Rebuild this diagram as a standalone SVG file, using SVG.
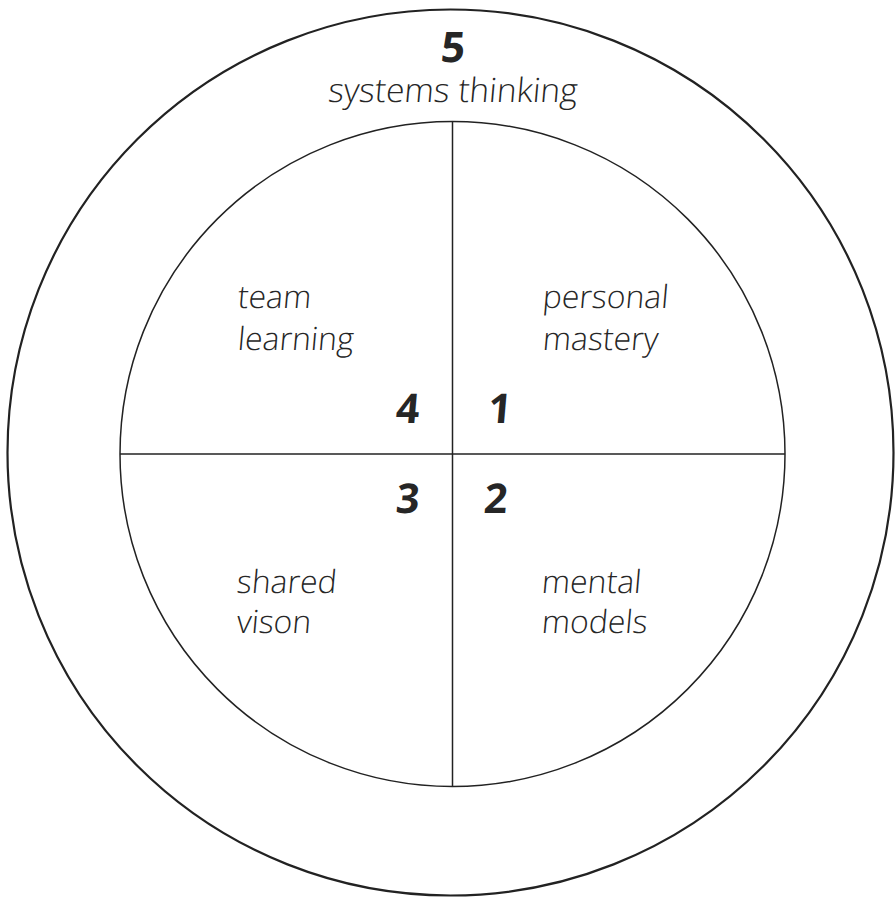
<svg xmlns="http://www.w3.org/2000/svg" width="895" height="898" viewBox="0 0 895 898">
<style>
.lbl{font-family:"Open Sans","Liberation Sans",sans-serif;font-weight:300;font-size:32px;fill:#262626}
.num{font-family:"Open Sans","Liberation Sans",sans-serif;font-weight:700;font-size:41px;fill:#262626}
.ring{fill:none;stroke:#222}
</style>
<rect width="895" height="898" fill="#fff"/>
<g id="systems-thinking">
<circle class="ring" cx="450.5" cy="452.5" r="443" stroke-width="2.2"/>
<text class="num" transform="translate(452 62) skewX(-5)" text-anchor="middle" style="font-size:42px">5</text>
<text class="lbl" transform="translate(452 102) skewX(-5)" text-anchor="middle" style="font-size:33.5px">systems thinking</text>
</g>
<g id="inner-circle">
<circle class="ring" cx="452.5" cy="454" r="332.5" stroke-width="1.5"/>
</g>
<g id="connectors">
<line x1="452.5" y1="121.5" x2="452.5" y2="786.5" stroke="#222" stroke-width="1.5"/>
<line x1="120" y1="454" x2="785" y2="454" stroke="#222" stroke-width="1.5"/>
</g>
<g id="personal-mastery">
<text class="num" transform="translate(487 423) skewX(-5)">1</text>
<text class="lbl" transform="translate(542 308) skewX(-5)">personal</text>
<text class="lbl" transform="translate(542 350) skewX(-5)">mastery</text>
</g>
<g id="mental-models">
<text class="num" transform="translate(483 513) skewX(-5)">2</text>
<text class="lbl" transform="translate(541 593) skewX(-5)">mental</text>
<text class="lbl" transform="translate(541 633) skewX(-5)">models</text>
</g>
<g id="shared-vision">
<text class="num" transform="translate(395 513) skewX(-5)">3</text>
<text class="lbl" transform="translate(236 593) skewX(-5)">shared</text>
<text class="lbl" transform="translate(236 633) skewX(-5)">vison</text>
</g>
<g id="team-learning">
<text class="num" transform="translate(395 423) skewX(-5)">4</text>
<text class="lbl" transform="translate(237 308) skewX(-5)">team</text>
<text class="lbl" transform="translate(237 350) skewX(-5)">learning</text>
</g>
</svg>
